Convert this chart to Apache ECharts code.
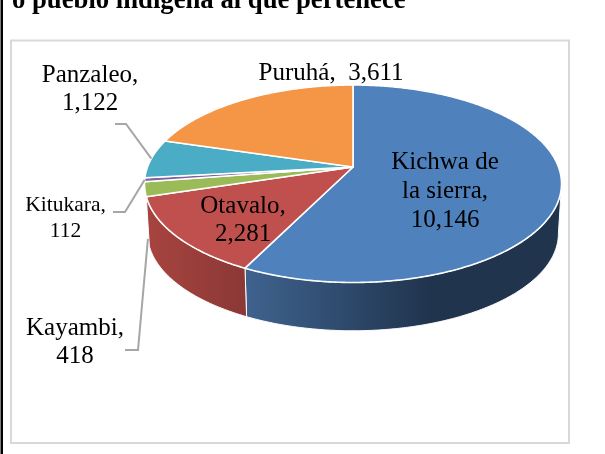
<!DOCTYPE html>
<html>
<head>
<meta charset="utf-8">
<style>
  html, body { margin: 0; padding: 0; background: #fff; }
  #chart { width: 605px; height: 454px; }
</style>
<script src="https://cdn.jsdelivr.net/npm/echarts@6/dist/echarts.min.js"></script>
</head>
<body>
<div id="chart"></div>
<script>
const heading = 'o pueblo indígena al que pertenece'
const pueblos = ['Kichwa de\nla sierra', 'Otavalo', 'Kayambi', 'Kitukara', 'Panzaleo', 'Puruhá']
const personas = [10146, 2281, 418, 112, 1122, 3611]
const colores = ['#4f81bd', '#c0504d', '#9bbb59', '#8064a2', '#4bacc6', '#f49646']

const total = personas.reduce((a, b) => a + b, 0)
const starts = []
personas.reduce((acc, v, i) => { starts[i] = acc; return acc + v }, 0)

// perspective disc: apex of the slices sits above the middle of the ellipse
const apexX = 353, apexY = 167
const radX = 205.5, radY = 95.9, tilt = 0.1696
const depth = 50, baseScale = 0.985
const wallFrom = 100, wallTo = 260 // front facing part of the rim, degrees from top

const sideWall = [
  [[0, '#3f638f'], [0.58, '#20344e'], [1, '#20344e']],
  [[0, '#a8443f'], [1, '#8a3836']]
]

// label anchor and leader line start, by slice
const labelAt = [
  { x: 445, y: 191, sep: ',\n', lh: 29 },
  { x: 243, y: 220, sep: ',\n' },
  { x: 75, y: 342, sep: ',\n', from: [[125, 350], [138, 350]], onBase: true },
  { x: 65.5, y: 218, sep: ',\n', size: 21.5, lh: 26, from: [[113, 212], [125, 212]] },
  { x: 90, y: 89, sep: ',\n', from: [[115, 124], [126, 124]] },
  { x: 331, y: 73, sep: ',  ' }
]

function rimPoint(deg, base) {
  const a = deg * Math.PI / 180
  const u = Math.sin(a), v = Math.cos(a)
  const d = 1 + tilt * v
  const s = base ? baseScale : 1
  return [
    apexX + s * radX * u / d,
    apexY + (base ? depth : 0) - s * radY * v / d
  ]
}

function arc(from, to, base) {
  const pts = []
  const n = Math.max(2, Math.ceil(Math.abs(to - from) * 2))
  for (let i = 0; i <= n; i++) pts.push(rimPoint(from + (to - from) * i / n, base))
  return pts
}

function sliceAngles(i) {
  return [starts[i] / total * 360, (starts[i] + personas[i]) / total * 360]
}

function renderWall(params) {
  const i = params.dataIndex
  const [a0, a1] = sliceAngles(i)
  const from = Math.max(a0, wallFrom), to = Math.min(a1, wallTo)
  if (from >= to || !sideWall[i]) return { type: 'group', children: [] }
  const points = arc(from, to, false).concat(arc(to, from, true))
  return {
    type: 'polygon',
    shape: { points },
    style: {
      fill: new echarts.graphic.LinearGradient(0, 0, 1, 0, sideWall[i].map(s => ({ offset: s[0], color: s[1] }))),
      stroke: '#fff',
      lineWidth: 1
    }
  }
}

function renderTop(params) {
  const i = params.dataIndex
  const [a0, a1] = sliceAngles(i)
  return {
    type: 'polygon',
    shape: { points: [[apexX, apexY]].concat(arc(a0, a1, false)) },
    style: { fill: colores[i], stroke: '#fff', lineWidth: 1.6, lineJoin: 'round' }
  }
}

function renderLabel(params) {
  const i = params.dataIndex
  const [a0, a1] = sliceAngles(i)
  const lay = labelAt[i]
  const children = []
  if (lay.from) {
    children.push({
      type: 'polyline',
      shape: { points: lay.from.concat([rimPoint((a0 + a1) / 2, lay.onBase)]) },
      style: { fill: 'none', stroke: '#a6a6a6', lineWidth: 2 }
    })
  }
  children.push({
    type: 'text',
    style: {
      x: lay.x,
      y: lay.y,
      text: pueblos[i] + lay.sep + personas[i].toLocaleString('en-US'),
      font: (lay.size || 25) + 'px "Liberation Serif"',
      lineHeight: lay.lh || 28,
      fill: '#000',
      align: 'center',
      verticalAlign: 'middle'
    }
  })
  return { type: 'group', children }
}

const rows = personas.map((v, i) => [i, v])
const chart = echarts.init(document.getElementById('chart'), null, { renderer: 'canvas' })

chart.setOption({
  animation: false,
  backgroundColor: '#fff',
  title: {
    text: heading,
    left: 12,
    top: -12,
    padding: 0,
    textStyle: { fontFamily: 'Liberation Serif', fontSize: 26.7, fontWeight: 'bold', color: '#000' }
  },
  graphic: [
    {
      type: 'rect',
      silent: true,
      z: -1,
      shape: { x: 0.5, y: -2, width: 2.5, height: 458 },
      style: { fill: '#000' }
    },
    {
      type: 'rect',
      silent: true,
      z: -1,
      shape: { x: 11, y: 40.5, width: 558, height: 402.5 },
      style: { fill: '#fff', stroke: '#d9d9d9', lineWidth: 2 }
    }
  ],
  series: [
    { type: 'custom', coordinateSystem: 'none', silent: true, z: 2, data: rows, renderItem: renderWall },
    { type: 'custom', coordinateSystem: 'none', silent: true, z: 3, data: rows, renderItem: renderTop },
    { type: 'custom', coordinateSystem: 'none', silent: true, z: 4, data: rows, renderItem: renderLabel }
  ]
})
</script>
</body>
</html>
